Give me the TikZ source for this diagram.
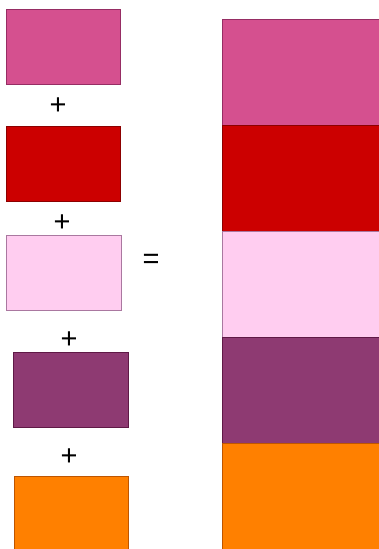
\documentclass[tikz,border=0pt]{standalone}
\usepackage{fontspec}
\setmainfont{Liberation Sans}
\definecolor{cA}{RGB}{213,80,143}
\definecolor{cAd}{RGB}{150,45,100}
\definecolor{cB}{RGB}{204,0,0}
\definecolor{cBd}{RGB}{140,0,0}
\definecolor{cC}{RGB}{255,205,240}
\definecolor{cCd}{RGB}{170,120,160}
\definecolor{cD}{RGB}{142,58,114}
\definecolor{cDd}{RGB}{95,25,70}
\definecolor{cE}{RGB}{255,128,0}
\definecolor{cEd}{RGB}{190,85,0}
\tikzset{
  swatch/.style={rectangle, inner sep=0pt, line width=0.8pt, minimum width=114pt, minimum height=75pt},
  band/.style={rectangle, inner sep=0pt, line width=0.8pt, minimum width=168pt, minimum height=106pt, anchor=north west},
  op/.style={inner sep=0pt, font=\fontsize{29}{30}\selectfont, yshift=-1.7pt}
}
\begin{document}
\begin{tikzpicture}[x=1pt,y=-1pt]
\useasboundingbox (0,0) rectangle (379,549);
\clip (0,0) rectangle (379,549);
% left swatches
\node[swatch, fill=cA, draw=cAd] (b1) at (63,46.5) {};
\node[swatch, fill=cB, draw=cBd] (b2) at (63,163.5) {};
\node[swatch, fill=cC, draw=cCd, minimum width=115pt] (b3) at (63.5,272.5) {};
\node[swatch, fill=cD, draw=cDd, minimum width=115pt] (b4) at (70.5,389.5) {};
\node[swatch, fill=cE, draw=cEd] (b5) at (71,513.5) {};
% operators
\node[op] (p1) at (58,104) {+};
\node[op] (p2) at (62,221) {+};
\node[op] (p3) at (69,338) {+};
\node[op] (p4) at (69,455) {+};
\node[op] (eq) at (151,260) {=};
% right stack
\node[band, fill=cA, draw=cAd] (r1) at (222,19) {};
\node[band, fill=cB, draw=cBd] (r2) at (222,125) {};
\node[band, fill=cC, draw=cCd] (r3) at (222,231) {};
\node[band, fill=cD, draw=cDd] (r4) at (222,337) {};
\node[band, fill=cE, draw=cEd] (r5) at (222,443) {};
\end{tikzpicture}
\end{document}
